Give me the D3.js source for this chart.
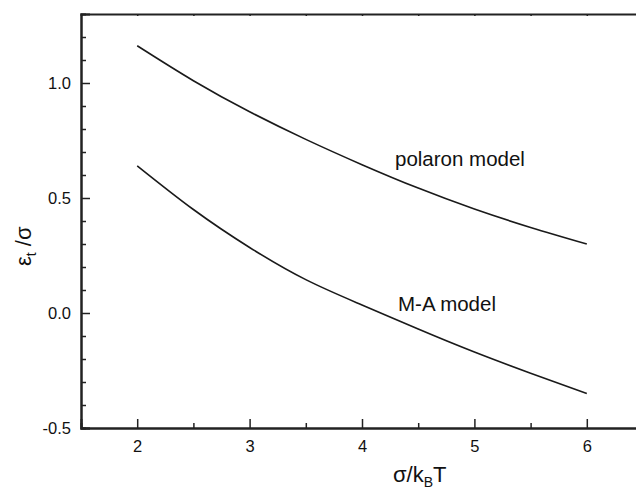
<!DOCTYPE html>
<html>
<head>
<meta charset="utf-8">
<script src="https://cdn.jsdelivr.net/npm/d3@7"></script>
<style>
  body { margin: 0; background: #fff; }
  text { font-family: "Liberation Sans", Arial, sans-serif; fill: #111; }
</style>
</head>
<body>
<div id="canvas"></div>
<script>
// chart size
const width = 636, height = 491;
const margin = { left: 81, top: 14, bottom: 63 };

// data
const xValues = [2, 2.5, 3, 3.5, 4, 4.5, 5, 5.5, 6];
const polaron = [1.162, 1.01, 0.875, 0.755, 0.645, 0.543, 0.452, 0.372, 0.30];
const maModel = [0.64, 0.45, 0.285, 0.145, 0.035, -0.07, -0.17, -0.262, -0.35];
const xMajor = [2, 3, 4, 5, 6];
const xMinor = [2.5, 3.5, 4.5, 5.5];
const yMajor = [-0.5, 0.0, 0.5, 1.0];
const yMinor = [-0.4, -0.3, -0.2, -0.1, 0.1, 0.2, 0.3, 0.4, 0.6, 0.7, 0.8, 0.9, 1.1, 1.2];

const svg = d3.select("#canvas")
    .append("svg")
    .attr("width", width)
    .attr("height", height);

// x runs past the right edge of the window, like the original
const x = d3.scaleLinear()
    .domain([1.5, 6.5])
    .range([margin.left, 643]);

const y = d3.scaleLinear()
    .domain([-0.5, 1.3])
    .range([height - margin.bottom, margin.top]);

const bottomY = y(-0.5);

// bottom axis, ticks point inward
svg.append("g")
    .attr("transform", `translate(0,${bottomY})`)
    .call(d3.axisBottom(x).tickValues(xMajor).tickSize(-9).tickPadding(12).tickFormat(d3.format("d")));

svg.append("g")
    .attr("transform", `translate(0,${bottomY})`)
    .call(d3.axisBottom(x).tickValues(xMinor).tickSize(-5).tickFormat(""));

// top frame line with little ticks
svg.append("g")
    .attr("transform", `translate(0,${margin.top})`)
    .call(d3.axisTop(x).tickValues(xMajor.concat(xMinor)).tickSize(-2).tickFormat(""));

// left axis
svg.append("g")
    .attr("transform", `translate(${margin.left},0)`)
    .call(d3.axisLeft(y).tickValues(yMajor).tickSize(-9).tickPadding(10).tickFormat(d => d.toFixed(1)));

svg.append("g")
    .attr("transform", `translate(${margin.left},0)`)
    .call(d3.axisLeft(y).tickValues(yMinor).tickSize(-5).tickFormat(""));

svg.selectAll(".domain").attr("stroke", "#222").attr("stroke-width", 2);
svg.selectAll(".tick line").attr("stroke", "#222").attr("stroke-width", 1.5);
svg.selectAll(".tick text").attr("font-size", 16.5).attr("fill", "#111");

// curves
const line = d3.line()
    .x((d, i) => x(xValues[i]))
    .y(d => y(d))
    .curve(d3.curveNatural);

[polaron, maModel].forEach(series => {
    svg.append("path")
        .datum(series)
        .attr("d", line)
        .attr("fill", "none")
        .attr("stroke", "#1a1a1a")
        .attr("stroke-width", 1.6);
});

// curve labels
svg.append("text")
    .attr("x", 395)
    .attr("y", 166)
    .attr("font-size", 20.5)
    .text("polaron model");

svg.append("text")
    .attr("x", 398)
    .attr("y", 311)
    .attr("font-size", 20.5)
    .text("M-A model");

// x axis title  σ/k_B T
const xt = svg.append("text")
    .attr("x", 393)
    .attr("y", 482)
    .attr("font-size", 22);
xt.append("tspan").text("σ/k");
xt.append("tspan").attr("font-size", 14).attr("dy", 5).text("B");
xt.append("tspan").attr("dy", -5).text("T");

// y axis title  ε_t /σ
const yt = svg.append("text")
    .attr("transform", "translate(31,266) rotate(-90)")
    .attr("font-size", 22);
yt.append("tspan").text("ε");
yt.append("tspan").attr("font-size", 14).attr("dy", 5).text("t");
yt.append("tspan").attr("dy", -5).text(" /σ");
</script>
</body>
</html>
